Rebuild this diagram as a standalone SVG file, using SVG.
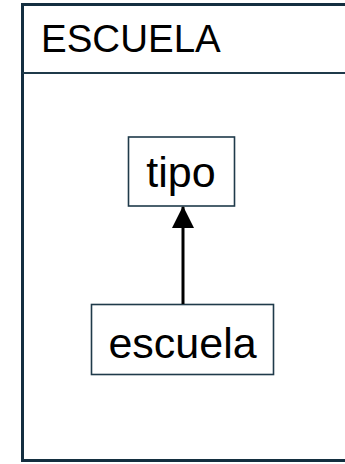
<svg xmlns="http://www.w3.org/2000/svg" width="345" height="464" viewBox="0 0 345 464">
  <style>
    .frame { fill: #ffffff; stroke: #142f40; stroke-width: 3; }
    .divider { stroke: #1f3a4a; stroke-width: 2; }
    .node { fill: #ffffff; stroke: #1f3a4a; stroke-width: 1.6; }
    .title { font-family: "Liberation Sans", Arial, sans-serif; font-size: 38.5px; fill: #000000; }
    .label { font-family: "Liberation Sans", Arial, sans-serif; font-size: 43px; fill: #000000; text-anchor: middle; }
    .edge { stroke: #000000; stroke-width: 3; fill: none; }
  </style>
  <defs>
    <marker id="arrow" markerUnits="userSpaceOnUse" markerWidth="22" markerHeight="22" viewBox="0 0 22 22" refX="21" refY="11" orient="auto">
      <path d="M0,0 L22,11 L0,22 Z" fill="#000000"/>
    </marker>
  </defs>
  <g id="escuela-frame">
    <rect class="frame" x="22.5" y="4.5" width="340" height="456"/>
    <line class="divider" x1="22.5" y1="73" x2="345" y2="73"/>
    <text class="title" x="41" y="52">ESCUELA</text>
  </g>
  <g id="node-tipo">
    <rect class="node" x="128.5" y="137" width="106" height="69"/>
    <text class="label" x="181" y="187">tipo</text>
  </g>
  <g id="node-escuela">
    <rect class="node" x="91.5" y="304.5" width="182" height="70"/>
    <text class="label" x="182.5" y="358">escuela</text>
  </g>
  <g id="connectors">
    <line class="edge" x1="183" y1="304" x2="183" y2="207" marker-end="url(#arrow)"/>
  </g>
</svg>
